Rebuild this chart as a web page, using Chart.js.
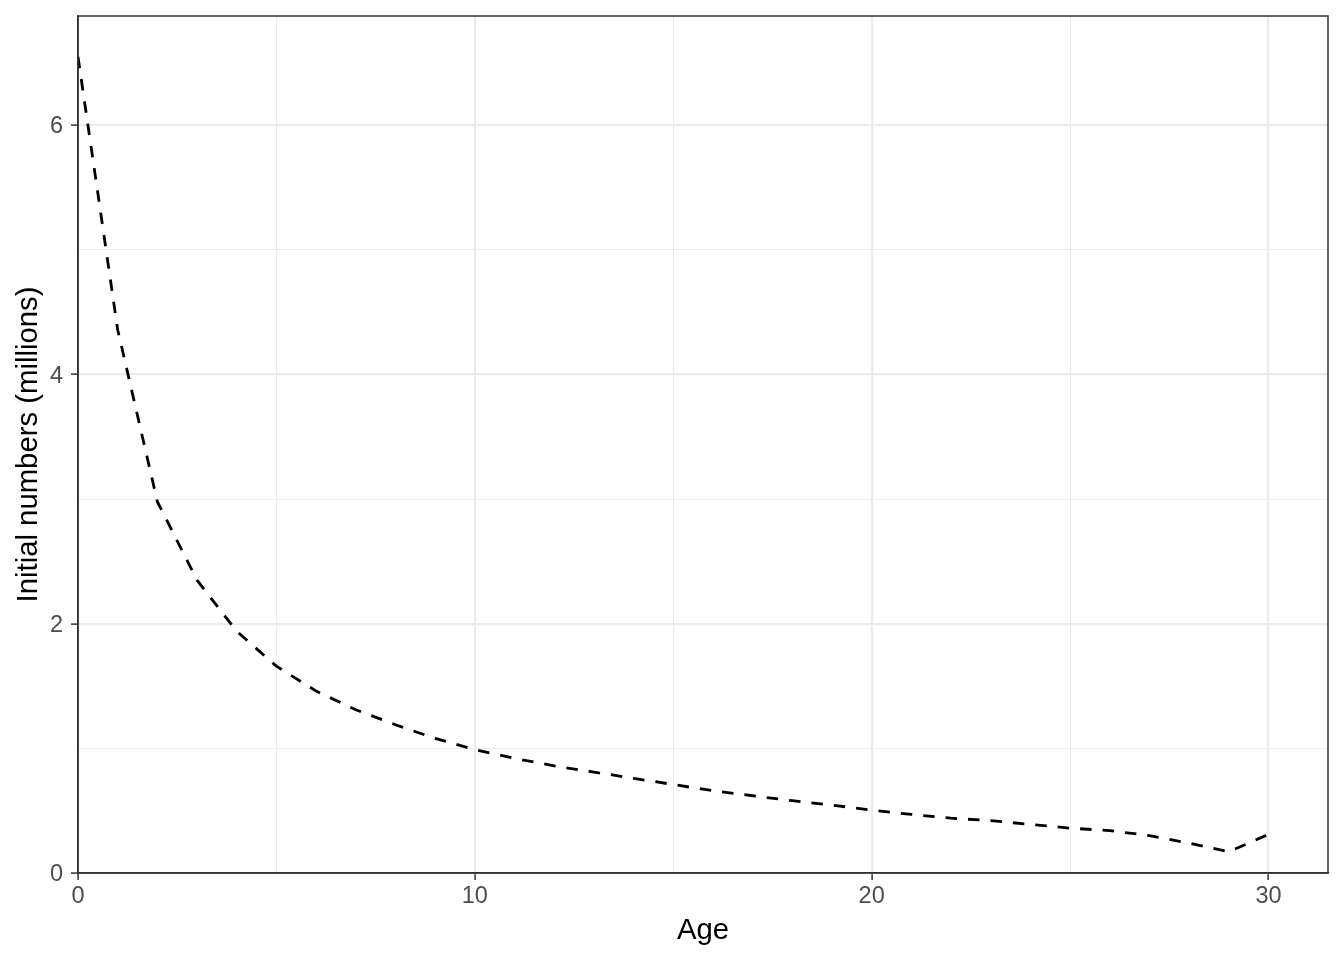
<!DOCTYPE html>
<html>
<head>
<meta charset="utf-8">
<script src="https://cdn.jsdelivr.net/npm/chart.js@4.4.1/dist/chart.umd.min.js"></script>
<style>
  html, body { margin: 0; padding: 0; background: #fff; }
  #wrap { width: 1344px; height: 960px; }
</style>
</head>
<body>
<div id="wrap"><canvas id="chart" width="1344" height="960"></canvas></div>
<script>
const ages = [0, 1, 2, 3, 4, 5, 6, 7, 8, 9, 10, 11, 12, 13, 14, 15,
    16, 17, 18, 19, 20, 21, 22, 23, 24, 25, 26, 27, 28, 29, 30];
const numbers = [6.55, 4.36, 2.98, 2.35, 1.94, 1.66, 1.46, 1.31, 1.19, 1.08, 0.99, 0.92, 0.86, 0.81, 0.76, 0.71,
    0.66, 0.62, 0.58, 0.545, 0.505, 0.47, 0.44, 0.42, 0.39, 0.36, 0.34, 0.30, 0.24, 0.17, 0.31];
const xTicks = [0, 5, 10, 15, 20, 25, 30];
const yTicks = [0, 1, 2, 3, 4, 5, 6];
const xMajor = [0, 10, 20, 30];
const yMajor = [0, 2, 4, 6];

const font = "'Liberation Sans', Arial, Helvetica, sans-serif";
const gridCol = '#EBEBEB';
const dark = '#333333';

const panelBorder = {
    id: 'panelBorder',
    afterDatasetsDraw(chart) {
        const { ctx, chartArea: a } = chart;
        ctx.save();
        ctx.strokeStyle = dark;
        ctx.lineWidth = 1.5;
        ctx.strokeRect(a.left, a.top, a.right - a.left, a.bottom - a.top);
        ctx.restore();
    }
};

const isMajor = (list, v) => list.includes(v);

new Chart(document.getElementById('chart'), {
    type: 'line',
    data: {
        datasets: [{
            data: ages.map((a, i) => ({ x: a, y: numbers[i] })),
            borderColor: '#000',
            borderWidth: 2.8,
            borderDash: [11.5, 11],
            pointRadius: 0,
            tension: 0,
            fill: false
        }]
    },
    options: {
        responsive: false,
        animation: false,
        layout: { padding: { top: 16, right: 16, left: 0, bottom: 0 } },
        plugins: { legend: { display: false }, tooltip: { enabled: false } },
        scales: {
            x: {
                type: 'linear',
                min: 0,
                max: Math.max(...ages) * 1.05,
                afterBuildTicks: axis => { axis.ticks = xTicks.map(v => ({ value: v })); },
                afterFit: axis => {
                    axis.height = 87;
                    axis.paddingLeft = 0;
                    axis.paddingRight = 0;
                },
                grid: {
                    color: gridCol,
                    lineWidth: c => isMajor(xMajor, c.tick.value) ? 2.2 : 1.1,
                    tickLength: 7,
                    tickWidth: 1.5,
                    tickColor: c => isMajor(xMajor, c.tick.value) ? dark : 'rgba(0,0,0,0)'
                },
                border: { display: true, color: dark, width: 1.5 },
                ticks: {
                    autoSkip: false,
                    maxRotation: 0,
                    padding: 2,
                    color: '#4D4D4D',
                    font: { family: font, size: 23.5 },
                    callback: v => isMajor(xMajor, v) ? String(v) : ''
                },
                title: {
                    display: true,
                    text: 'Age',
                    color: '#000',
                    font: { family: font, size: 29.3 },
                    padding: { top: 12, bottom: 12 }
                }
            },
            y: {
                type: 'linear',
                min: 0,
                max: Math.max(...numbers) * 1.05,
                afterBuildTicks: axis => { axis.ticks = yTicks.map(v => ({ value: v })); },
                afterFit: axis => {
                    axis.width = 78;
                    axis.paddingTop = 0;
                    axis.paddingBottom = 0;
                },
                grid: {
                    color: gridCol,
                    lineWidth: c => isMajor(yMajor, c.tick.value) ? 2.2 : 1.1,
                    tickLength: 7,
                    tickWidth: 1.5,
                    tickColor: c => isMajor(yMajor, c.tick.value) ? dark : 'rgba(0,0,0,0)'
                },
                border: { display: true, color: dark, width: 1.5 },
                ticks: {
                    autoSkip: false,
                    padding: 8,
                    labelOffset: 1.5,
                    color: '#4D4D4D',
                    font: { family: font, size: 23.5 },
                    callback: v => isMajor(yMajor, v) ? String(v) : ''
                },
                title: {
                    display: true,
                    text: 'Initial numbers (millions)',
                    color: '#000',
                    font: { family: font, size: 29.3 },
                    padding: { top: 11, bottom: 11 }
                }
            }
        }
    },
    plugins: [panelBorder]
});
</script>
</body>
</html>
